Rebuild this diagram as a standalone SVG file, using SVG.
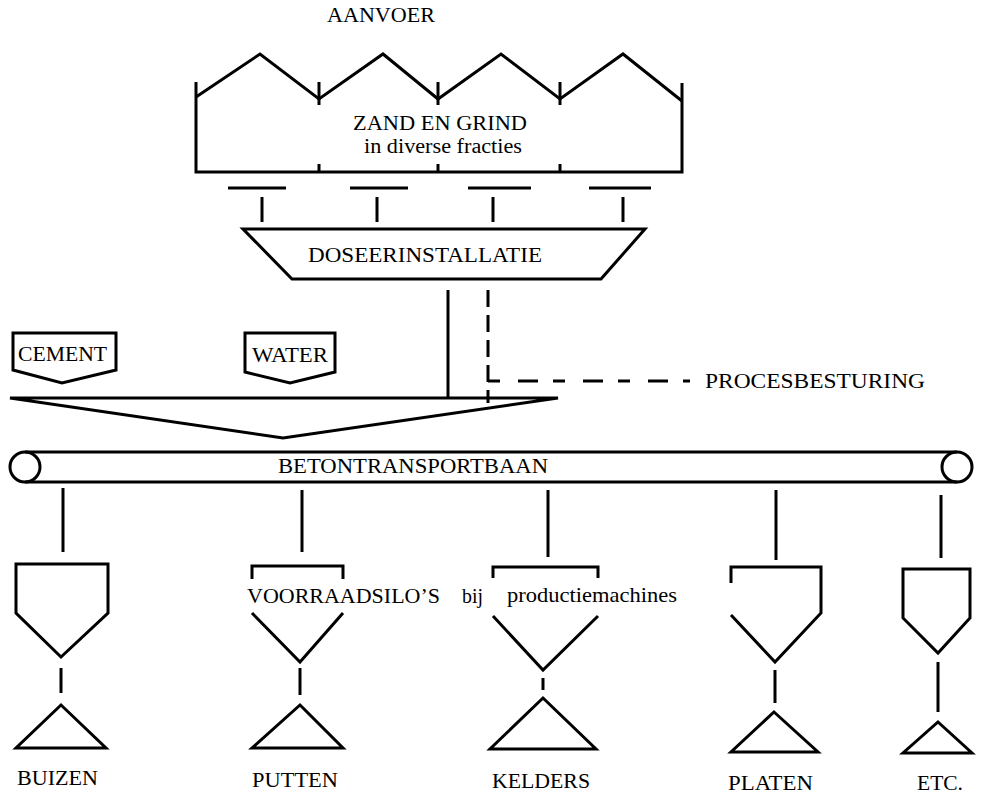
<svg xmlns="http://www.w3.org/2000/svg" width="981" height="794" viewBox="0 0 981 794">
<style>
.s{fill:none;stroke:#000;stroke-width:3;stroke-linejoin:miter;stroke-linecap:butt}
.d{fill:none;stroke:#000;stroke-width:3}
.t{font-family:"Liberation Serif","Times New Roman",serif;font-size:22px;fill:#000}
.sm{font-size:20px}
</style>
<rect width="981" height="794" fill="#fff"/>
<g id="aanvoer"><text class="t" x="327" y="22" textLength="108" lengthAdjust="spacingAndGlyphs">AANVOER</text></g>
<g id="zand-en-grind">
<polyline class="s" points="196,97 260,54 319,99 383,54 438,99 501,54 560,99 623,54 682,101"/>
<polyline class="s" points="196,82 196,172 682,172 682,83"/>
<line class="s" x1="319" y1="82" x2="319" y2="105"/>
<line class="s" x1="438" y1="82" x2="438" y2="105"/>
<line class="s" x1="560" y1="82" x2="560" y2="105"/>
<line class="s" x1="319" y1="164" x2="319" y2="172"/>
<line class="s" x1="438" y1="164" x2="438" y2="172"/>
<line class="s" x1="560" y1="164" x2="560" y2="172"/>
<text class="t sm" x="353" y="130" textLength="174" lengthAdjust="spacingAndGlyphs">ZAND EN GRIND</text>
<text class="t sm" x="364" y="153" textLength="158" lengthAdjust="spacingAndGlyphs">in  diverse fracties</text>
</g>
<g id="afsluiters">
<line class="s" x1="228" y1="188" x2="286" y2="188"/>
<line class="s" x1="350" y1="188" x2="408" y2="188"/>
<line class="s" x1="468" y1="188" x2="531" y2="188"/>
<line class="s" x1="589" y1="188" x2="651" y2="188"/>
</g>
<g id="doseerinstallatie">
<polygon class="s" points="243,229 645,229 601,279 292,279"/>
<text class="t" x="308" y="262" textLength="234" lengthAdjust="spacingAndGlyphs">DOSEERINSTALLATIE</text>
</g>
<g id="cement">
<polygon class="s" points="13,333 116,333 116,370 62,383 13,370"/>
<text class="t" x="18" y="361" textLength="89" lengthAdjust="spacingAndGlyphs">CEMENT</text>
</g>
<g id="water">
<polygon class="s" points="245,333 335,333 335,372 290,383 245,372"/>
<text class="t" x="252" y="362" textLength="76" lengthAdjust="spacingAndGlyphs">WATER</text>
</g>
<g id="menger">
<polygon class="s" points="10,398 558,398 283,438"/>
</g>
<g id="procesbesturing"><text class="t" x="705" y="388" textLength="220" lengthAdjust="spacingAndGlyphs">PROCESBESTURING</text></g>
<g id="betontransportbaan">
<line class="s" x1="25" y1="452" x2="957" y2="452"/>
<line class="s" x1="25" y1="482" x2="957" y2="482"/>
<circle class="s" cx="25" cy="467" r="15" fill="#fff"/>
<circle class="s" cx="957" cy="467" r="15" fill="#fff"/>
<text class="t" x="278" y="473" textLength="270" lengthAdjust="spacingAndGlyphs">BETONTRANSPORTBAAN</text>
</g>
<g id="silo-buizen"><polygon class="s" points="16,564 108,564 108,613 61,657 16,613"/></g>
<g id="silo-putten">
<polyline class="s" points="252,579 252,566 343,566 343,579"/>
<polyline class="s" points="252,613 300,662 343,613"/>
</g>
<g id="silo-kelders">
<polyline class="s" points="493,578 493,567 598,567 598,578"/>
<polyline class="s" points="493,616 543,670 598,616"/>
</g>
<g id="silo-platen">
<polyline class="s" points="731,583 731,567 821,567 821,613 775,662 731,615"/>
</g>
<g id="silo-etc"><polygon class="s" points="903,569 970,569 970,618 938,653 903,618"/></g>
<g id="silo-label">
<text class="t" x="247" y="603" textLength="193" lengthAdjust="spacingAndGlyphs">VOORRAADSILO’S</text>
<text class="t" x="462" y="603" textLength="21" lengthAdjust="spacingAndGlyphs">bij</text>
<text class="t" x="507" y="602" textLength="170" lengthAdjust="spacingAndGlyphs">productiemachines</text>
</g>
<g id="buizen"><polygon class="s" points="61,705 106,748 16,748"/><text class="t" x="17" y="785" textLength="81" lengthAdjust="spacingAndGlyphs">BUIZEN</text></g>
<g id="putten"><polygon class="s" points="300,705 343,748 252,748"/><text class="t" x="252" y="787" textLength="86" lengthAdjust="spacingAndGlyphs">PUTTEN</text></g>
<g id="kelders"><polygon class="s" points="543,698 596,749 490,749"/><text class="t" x="492" y="788" textLength="98" lengthAdjust="spacingAndGlyphs">KELDERS</text></g>
<g id="platen"><polygon class="s" points="774,712 818,752 731,752"/><text class="t" x="728" y="790" textLength="85" lengthAdjust="spacingAndGlyphs">PLATEN</text></g>
<g id="etc"><polygon class="s" points="938,722 972,753 903,753"/><text class="t" x="917" y="790" textLength="46" lengthAdjust="spacingAndGlyphs">ETC.</text></g>
<g id="connectors">
<line class="s" x1="262" y1="197" x2="262" y2="222"/>
<line class="s" x1="377" y1="197" x2="377" y2="222"/>
<line class="s" x1="493" y1="197" x2="493" y2="222"/>
<line class="s" x1="623" y1="197" x2="623" y2="222"/>
<line class="s" x1="448" y1="290" x2="448" y2="398"/>
<line class="d" x1="488" y1="290" x2="488" y2="403" stroke-dasharray="17,8"/>
<line class="d" x1="488" y1="381" x2="690" y2="381" stroke-dasharray="12,18,20,15"/>
<line class="s" x1="63" y1="488" x2="63" y2="552"/>
<line class="s" x1="302" y1="490" x2="302" y2="552"/>
<line class="s" x1="548" y1="490" x2="548" y2="557"/>
<line class="s" x1="776" y1="490" x2="776" y2="560"/>
<line class="s" x1="941" y1="495" x2="941" y2="558"/>
<line class="s" x1="61" y1="668" x2="61" y2="693"/>
<line class="s" x1="300" y1="668" x2="300" y2="695"/>
<line class="s" x1="543" y1="678" x2="543" y2="690"/>
<line class="s" x1="775" y1="670" x2="775" y2="703"/>
<line class="s" x1="938" y1="662" x2="938" y2="712"/>
</g>
</svg>
